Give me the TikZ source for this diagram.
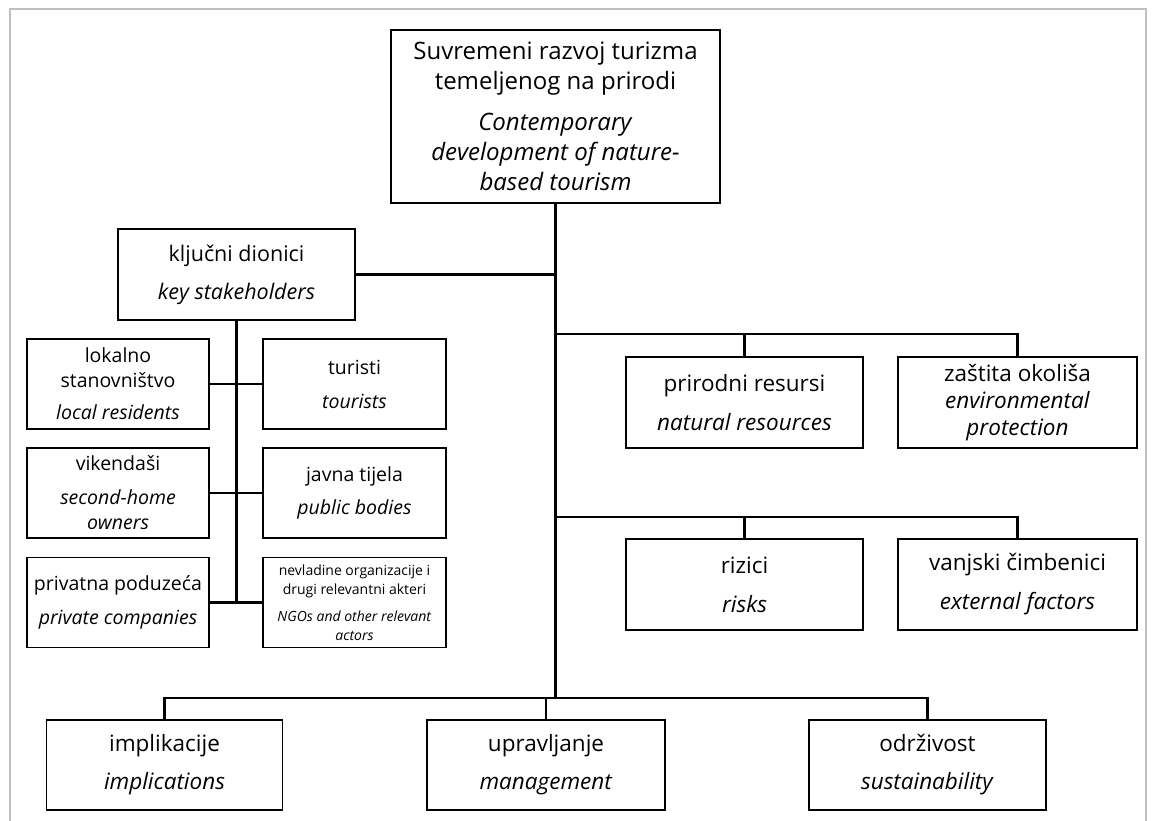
\documentclass[tikz,border=0pt]{standalone}
\usepackage{fontspec}
\setmainfont{Open Sans}
\usetikzlibrary{positioning}
\tikzstyle{every picture} = [x=1pt, y=-1pt]
\tikzstyle{box} = [draw, line width=1.9pt, align=center, inner sep=0pt, minimum height=90pt]
\tikzstyle{link} = [line width=2.2pt]
\tikzstyle{frame} = [line width=2pt, black!25]

\begin{document}
\begin{tikzpicture}
			\useasboundingbox (0,0) rectangle (1154,821);
			\draw[frame] (10,821) -- (10,9) -- (1146,9) -- (1146,821);
			% glavni pojam
			\node (box top) [box, minimum width=329pt, minimum height=173pt, font=\fontsize{24}{30}\selectfont] at (555.5,116.5) {Suvremeni razvoj turizma\\temeljenog na prirodi\\[11pt]\textit{Contemporary}\\\textit{development of nature-}\\\textit{based tourism}};
			\node (box key) [box, minimum width=237pt, minimum height=91pt, font=\fontsize{21.5}{26}\selectfont] at (236.5,274.5) {ključni dionici\\[12pt]\textit{key stakeholders}};
			% dionici
			\node (box local) [box, minimum width=182pt, font=\fontsize{19.5}{25}\selectfont] at (118,384) {lokalno\\stanovništvo\\[7pt]\textit{local residents}};
			\node (box tourists) [box, minimum width=183pt, font=\fontsize{19.5}{25}\selectfont] at (354.5,384) {turisti\\[9pt]\textit{tourists}};
			\node (box weekend) [box, minimum width=182pt, font=\fontsize{19.5}{25}\selectfont] at (118,493) {vikendaši\\[9pt]\textit{second-home}\\\textit{owners}};
			\node (box public) [box, minimum width=183pt, font=\fontsize{19.5}{25}\selectfont] at (354.5,493) {javna tijela\\[8pt]\textit{public bodies}};
			\node (box private) [box, minimum width=182pt, font=\fontsize{19.5}{25}\selectfont] at (118,602.5) {privatna poduzeća\\[9pt]\textit{private companies}};
			\node (box ngo) [box, minimum width=183pt, font=\fontsize{14}{19}\selectfont] at (354.5,602.5) {nevladine organizacije i\\drugi relevantni akteri\\[8pt]\textit{NGOs and other relevant}\\\textit{actors}};
			% desna strana
			\node (box nature) [box, minimum width=237pt, minimum height=91pt, font=\fontsize{22.5}{28}\selectfont] at (744.5,402.5) {prirodni resursi\\[11pt]\textit{natural resources}};
			\node (box protect) [box, minimum width=239pt, minimum height=91pt, font=\fontsize{22.5}{27}\selectfont] at (1017.5,402.5) {zaštita okoliša\\\textit{environmental}\\\textit{protection}};
			\node (box risks) [box, minimum width=237pt, minimum height=91pt, font=\fontsize{22.5}{28}\selectfont] at (744.5,584.5) {rizici\\[11pt]\textit{risks}};
			\node (box external) [box, minimum width=239pt, minimum height=91pt, font=\fontsize{22.5}{28}\selectfont] at (1017.5,584.5) {vanjski čimbenici\\[11pt]\textit{external factors}};
			% donji red
			\node (box implic) [box, minimum width=236pt, font=\fontsize{22.5}{28}\selectfont] at (164.5,765) {implikacije\\[10pt]\textit{implications}};
			\node (box manage) [box, minimum width=238pt, font=\fontsize{22.5}{28}\selectfont] at (546,765) {upravljanje\\[10pt]\textit{management}};
			\node (box sustain) [box, minimum width=237pt, font=\fontsize{22.5}{28}\selectfont] at (927.5,765) {održivost\\[10pt]\textit{sustainability}};
			\coordinate (bus one) at (555.5,334);
			\coordinate (bus two) at (555.5,517);
			\coordinate (bus low) at (555.5,698);
			\draw[link] (box top.south) -- (bus low);
			\draw[link] (box key.east) -- (box key.east -| box top.south);
			\draw[link] (box key.south) -- (box key.south |- box private.east);
			\draw[link] (box local.east) -- (box tourists.west);
			\draw[link] (box weekend.east) -- (box public.west);
			\draw[link] (box private.east) -- (box ngo.west);
			\draw[link] (bus one) -| (box protect.north);
			\draw[link] (bus one -| box nature.north) -- (box nature.north);
			\draw[link] (bus two) -| (box external.north);
			\draw[link] (bus two -| box risks.north) -- (box risks.north);
			\draw[link] (box implic.north) |- (bus low) -| (box sustain.north);
			\draw[link] (bus low -| box manage.north) -- (box manage.north);
		\end{tikzpicture}
\end{document}
